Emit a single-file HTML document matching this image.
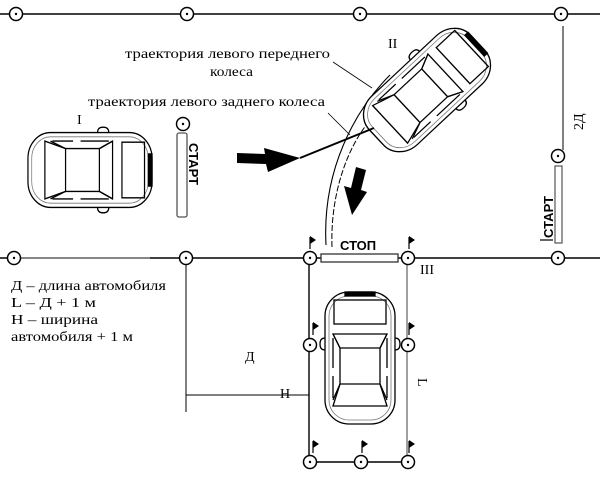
<!DOCTYPE html>
<html><head><meta charset="utf-8"><style>
html,body{margin:0;padding:0;background:#fff}
svg{display:block}
text{font-family:"Liberation Serif",serif;fill:#000}
.s{font-family:"Liberation Sans",sans-serif;font-weight:bold}
</style></head><body>
<svg width="600" height="477" viewBox="0 0 600 477" xmlns="http://www.w3.org/2000/svg">
<defs>
<g id="post"><circle r="6.5" fill="#fff" stroke="#000" stroke-width="1.5"/><circle r="1.2" fill="#000"/></g>
<g id="flag"><line x1="0" y1="0" x2="0" y2="-12" stroke="#000" stroke-width="1.2"/><path d="M0,-13 L6,-9 L0,-5Z" fill="#000"/></g>
<g id="car" fill="none" stroke="#000" stroke-width="1.3">
<rect x="-35" y="-66" width="70" height="132" rx="24" fill="#fff"/>
<rect x="-31" y="-62" width="62" height="124" rx="20" stroke-width="0.8" stroke="#777"/>
<rect x="-15" y="-66" width="30" height="4" fill="#000"/>
<rect x="-26" y="-58" width="52" height="24"/>
<path d="M-27,-24 L27,-24 L20,-10 L-20,-10 Z"/>
<path d="M-27,-24 L-20,-10 L-20,26 L-27,42 M27,-24 L20,-10 L20,26 L27,42"/>
<path d="M-27,-20 L-27,10 M27,-20 L27,10 M-27,18 L-27,40 M27,18 L27,40"/>
<path d="M-20,26 L20,26 L27,48 L-27,48 Z"/>
<path d="M-35,-20 q-5,0 -5,6 q0,6 5,6 M35,-20 q5,0 5,6 q0,6 -5,6"/>
</g>
</defs>

<line x1="0" y1="14" x2="600" y2="14" stroke="#000" stroke-width="1.4"/>
<use href="#post" x="16" y="14"/><use href="#post" x="187" y="14"/><use href="#post" x="360" y="14"/><use href="#post" x="561" y="14"/>

<line x1="563" y1="26" x2="563" y2="150" stroke="#000" stroke-width="1"/>
<text x="0" y="0" font-size="14" transform="translate(583,130) rotate(-90)">2Д</text>
<use href="#post" x="558" y="156"/>
<rect x="555" y="166" width="7" height="77" fill="#fff" stroke="#555" stroke-width="1.2"/>
<text class="s" x="0" y="0" font-size="13" transform="translate(553,238) rotate(-90)">СТАРТ</text>
<line x1="540" y1="240" x2="553" y2="240" stroke="#000" stroke-width="1.2"/>

<line x1="0" y1="258" x2="600" y2="258" stroke="#000" stroke-width="1.4"/>
<line x1="20" y1="258" x2="150" y2="258" stroke="#888" stroke-width="1.4"/>
<rect x="321" y="254" width="77" height="8" fill="#fff" stroke="#333" stroke-width="1.3"/>
<text class="s" x="340" y="250" font-size="13" font-weight="normal">СТОП</text>
<text x="420" y="274" font-size="14">III</text>

<line x1="309" y1="258" x2="309" y2="462" stroke="#000" stroke-width="1.4"/>
<line x1="407" y1="258" x2="407" y2="462" stroke="#777" stroke-width="1.4"/>
<line x1="309" y1="462" x2="407" y2="462" stroke="#000" stroke-width="1.4"/>
<line x1="186" y1="258" x2="186" y2="412" stroke="#000" stroke-width="1"/>
<line x1="186" y1="395" x2="309" y2="395" stroke="#000" stroke-width="1"/>
<text x="245" y="361" font-size="14">Д</text>
<text x="280" y="398" font-size="14">Н</text>
<text x="0" y="0" font-size="14" transform="translate(418,378) rotate(90)">L</text>

<use href="#flag" x="310" y="249"/><use href="#flag" x="409" y="249"/>
<use href="#flag" x="313" y="335"/><use href="#flag" x="409" y="335"/>
<use href="#flag" x="313" y="453"/><use href="#flag" x="362" y="453"/><use href="#flag" x="409" y="453"/>
<use href="#post" x="14" y="258"/><use href="#post" x="186" y="258"/><use href="#post" x="310" y="258"/><use href="#post" x="408" y="258"/><use href="#post" x="558" y="258"/>
<use href="#post" x="310" y="345"/><use href="#post" x="408" y="345"/>
<use href="#post" x="310" y="462"/><use href="#post" x="361" y="462"/><use href="#post" x="408" y="462"/>

<text x="11" y="290" font-size="14" textLength="155" lengthAdjust="spacingAndGlyphs">Д – длина автомобиля</text>
<text x="11" y="307" font-size="14" textLength="85" lengthAdjust="spacingAndGlyphs">L – Д + 1 м</text>
<text x="11" y="324" font-size="14" textLength="87" lengthAdjust="spacingAndGlyphs">Н – ширина</text>
<text x="11" y="341" font-size="14" textLength="122" lengthAdjust="spacingAndGlyphs">автомобиля + 1 м</text>

<use href="#car" transform="translate(360,358)"/>

<use href="#car" transform="translate(90,170) rotate(90) scale(1.07,0.94)"/>
<text x="77" y="124" font-size="14">I</text>
<use href="#post" x="183" y="124"/>
<rect x="177" y="133" width="10" height="84" rx="2" fill="#fff" stroke="#555" stroke-width="1.3"/>
<text class="s" x="0" y="0" font-size="13" transform="translate(189,143) rotate(90)">СТАРТ</text>

<path d="M326,245 C322,170 355,110 390,75" fill="none" stroke="#000" stroke-width="1.1"/>
<path d="M332,247 C330,190 350,140 375,115" fill="none" stroke="#000" stroke-width="1" stroke-dasharray="6,2"/>

<use href="#car" transform="translate(427,90) rotate(47) scale(0.95,1.05)"/>
<text x="388" y="48" font-size="14">II</text>

<text x="125" y="58" font-size="14" textLength="205" lengthAdjust="spacingAndGlyphs">траектория левого переднего</text>
<text x="210" y="76" font-size="14" textLength="43" lengthAdjust="spacingAndGlyphs">колеса</text>
<text x="88" y="106" font-size="14" textLength="237" lengthAdjust="spacingAndGlyphs">траектория левого заднего колеса</text>
<line x1="333" y1="62" x2="372" y2="88" stroke="#000" stroke-width="0.8"/>
<line x1="328" y1="113" x2="350" y2="135" stroke="#000" stroke-width="0.8"/>

<path d="M237,153 L265,154 L264,148 L300,158 L268,172 L266,164 L237,163 Z" fill="#000"/>
<path d="M300,158 C320,150 345,140 374,128" fill="none" stroke="#000" stroke-width="2"/>
<path d="M356,167 L366,170 L361,190 L367,192 L352,215 L344,186 L351,188 Z" fill="#000"/>
</svg>
</body></html>
